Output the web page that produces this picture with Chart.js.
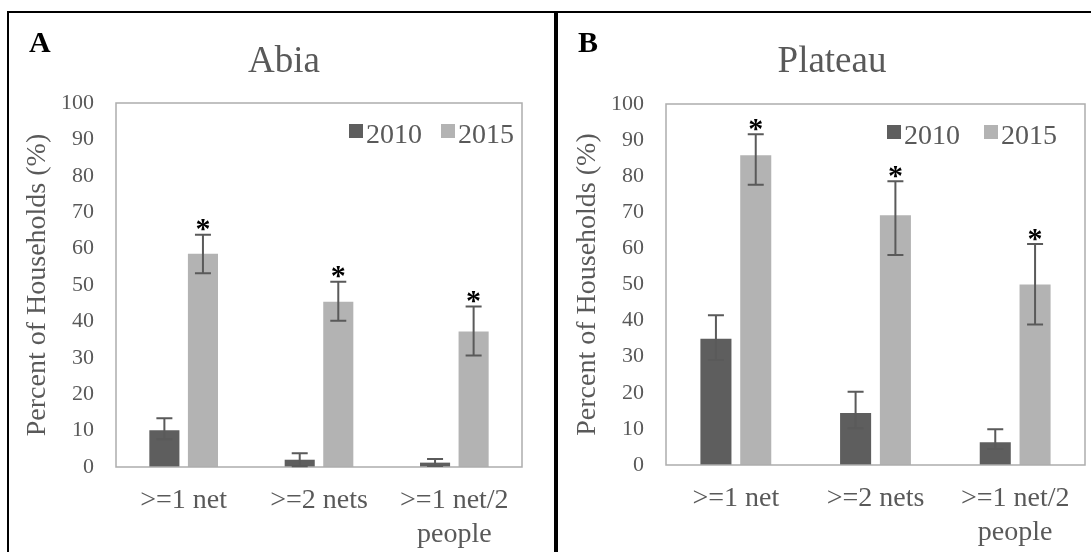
<!DOCTYPE html>
<html><head><meta charset="utf-8">
<script src="https://cdn.jsdelivr.net/npm/chart.js@4.4.0/dist/chart.umd.min.js"></script>
<style>
html,body{margin:0;padding:0;background:#fff;width:1091px;height:552px;overflow:hidden;position:relative}
canvas{position:absolute;display:block}
.ln{position:absolute;background:#000}
</style></head><body>
<canvas id="cA" width="546" height="540" style="left:8px;top:12px"></canvas>
<canvas id="cB" width="533" height="540" style="left:558px;top:12px"></canvas>
<div class="ln" style="left:7px;top:11px;width:1084px;height:2px"></div>
<div class="ln" style="left:7px;top:11px;width:2px;height:541px"></div>
<div class="ln" style="left:554px;top:11px;width:4px;height:541px"></div>
<script>
// ---- data ----
const categories = [">=1 net", ">=2 nets", [">=1 net/2", "people"]];
const seriesNames = ["2010", "2015"];
const yTickValues = [0, 10, 20, 30, 40, 50, 60, 70, 80, 90, 100];
const yAxisTitle = "Percent of Households (%)";

const abiaTitle = "Abia";
const abia2010 = [10.1, 2.0, 1.2];
const abia2010Low = [7.6, 0.2, 0.3];
const abia2010High = [13.4, 3.8, 2.2];
const abia2015 = [58.6, 45.4, 37.2];
const abia2015Low = [53.2, 40.2, 30.6];
const abia2015High = [63.8, 50.9, 44.1];

const plateauTitle = "Plateau";
const plateau2010 = [35.0, 14.4, 6.3];
const plateau2010Low = [29.1, 10.2, 4.4];
const plateau2010High = [41.5, 20.3, 9.9];
const plateau2015 = [85.8, 69.2, 50.0];
const plateau2015Low = [77.6, 58.2, 38.9];
const plateau2015High = [91.6, 78.6, 61.2];

// ---- styles ----
const FONT = '"Liberation Serif", "Times New Roman", serif';
const DARK = '#5e5e5e';
const LIGHT = '#b3b3b3';
const TEXT = '#595959';

const framePlugin = {
  id: 'plotFrame',
  afterDatasetsDraw(chart) {
    const {ctx, chartArea: a} = chart;
    ctx.save();
    ctx.strokeStyle = '#adadad';
    ctx.lineWidth = 1.5;
    ctx.strokeRect(a.left, a.top, a.right - a.left, a.bottom - a.top);
    ctx.restore();
  }
};

const errorBarPlugin = {
  id: 'errorBars',
  afterDatasetsDraw(chart) {
    const ctx = chart.ctx, ys = chart.scales.y;
    chart.data.datasets.forEach((ds, di) => {
      const meta = chart.getDatasetMeta(di);
      meta.data.forEach((el, i) => {
        const x = el.x;
        const yh = ys.getPixelForValue(ds.errHigh[i]);
        const yl = ys.getPixelForValue(ds.errLow[i]);
        ctx.save();
        ctx.strokeStyle = '#5a5a5a';
        ctx.lineWidth = 2;
        ctx.beginPath();
        ctx.moveTo(x, yl); ctx.lineTo(x, yh);
        ctx.moveTo(x - 8, yh); ctx.lineTo(x + 8, yh);
        ctx.moveTo(x - 8, yl); ctx.lineTo(x + 8, yl);
        ctx.stroke();
        if (ds.star) {
          ctx.fillStyle = '#000';
          ctx.font = 'bold 30px ' + FONT;
          ctx.textAlign = 'center';
          ctx.textBaseline = 'alphabetic';
          ctx.fillText('*', x, yh + 3.5);
        }
        ctx.restore();
      });
    });
  }
};

const panelTextPlugin = {
  id: 'panelText',
  afterDraw(chart, args, o) {
    const ctx = chart.ctx;
    ctx.save();
    ctx.textBaseline = 'alphabetic';
    ctx.fillStyle = '#000';
    ctx.font = 'bold 30px ' + FONT;
    ctx.textAlign = 'left';
    ctx.fillText(o.letter, o.letterX, 40);
    ctx.fillStyle = TEXT;
    ctx.font = '37px ' + FONT;
    ctx.textAlign = 'center';
    ctx.fillText(o.title, o.titleX, 60);
    ctx.restore();
  }
};

const innerLegendPlugin = {
  id: 'innerLegend',
  afterDraw(chart, args, o) {
    const ctx = chart.ctx, a = chart.chartArea;
    ctx.save();
    ctx.font = '28px ' + FONT;
    ctx.textBaseline = 'alphabetic';
    ctx.textAlign = 'left';
    let x = o.x;
    const base = a.top + 40;
    chart.data.datasets.forEach(ds => {
      ctx.fillStyle = ds.backgroundColor;
      ctx.fillRect(x, base - 19, 14, 14);
      x += 17;
      ctx.fillStyle = TEXT;
      ctx.fillText(ds.label, x, base);
      x += ctx.measureText(ds.label).width + o.gap;
    });
    ctx.restore();
  }
};

function makeChart(id, cfg) {
  return new Chart(document.getElementById(id), {
    type: 'bar',
    data: {
      labels: categories,
      datasets: [
        {label: seriesNames[0], data: cfg.d2010, errLow: cfg.l2010, errHigh: cfg.h2010, star: false,
         backgroundColor: DARK, borderWidth: 0},
        {label: seriesNames[1], data: cfg.d2015, errLow: cfg.l2015, errHigh: cfg.h2015, star: true,
         backgroundColor: LIGHT, borderWidth: 0}
      ]
    },
    options: {
      responsive: false,
      animation: false,
      devicePixelRatio: 1,
      layout: {padding: {left: 0, right: cfg.padRight, top: cfg.padTop, bottom: 0}},
      datasets: {bar: {categoryPercentage: 0.57, barPercentage: 0.78}},
      plugins: {
        legend: {display: false},
        title: {display: false},
        tooltip: {enabled: false},
        panelText: {letter: cfg.letter, letterX: cfg.letterX, title: cfg.title, titleX: cfg.titleX},
        innerLegend: {x: cfg.legX, gap: cfg.legGap}
      },
      scales: {
        x: {
          grid: {display: false, drawTicks: false},
          border: {display: false},
          ticks: {font: {family: FONT, size: 28}, color: TEXT, padding: 17, maxRotation: 0, autoSkip: false},
          afterFit(axis) { axis.height = cfg.xH; }
        },
        y: {
          min: 0, max: 100,
          afterBuildTicks(axis) { axis.ticks = yTickValues.map(v => ({value: v})); },
          grid: {display: false, drawTicks: false},
          border: {display: false},
          ticks: {font: {family: FONT, size: 22}, color: TEXT, padding: 22},
          title: {display: true, text: yAxisTitle, font: {family: FONT, size: 28}, color: TEXT, padding: {top: 13, bottom: 0}},
          afterFit(axis) { axis.width = 108; }
        }
      }
    },
    plugins: [framePlugin, errorBarPlugin, panelTextPlugin, innerLegendPlugin]
  });
}

makeChart('cA', {
  d2010: abia2010, l2010: abia2010Low, h2010: abia2010High,
  d2015: abia2015, l2015: abia2015Low, h2015: abia2015High,
  padRight: 32, padTop: 91, xH: 85,
  letter: 'A', letterX: 21, title: abiaTitle, titleX: 276,
  legX: 341, legGap: 19
});
makeChart('cB', {
  d2010: plateau2010, l2010: plateau2010Low, h2010: plateau2010High,
  d2015: plateau2015, l2015: plateau2015Low, h2015: plateau2015High,
  padRight: 6, padTop: 92, xH: 87,
  letter: 'B', letterX: 20, title: plateauTitle, titleX: 274,
  legX: 329, legGap: 24
});
</script>
</body></html>
